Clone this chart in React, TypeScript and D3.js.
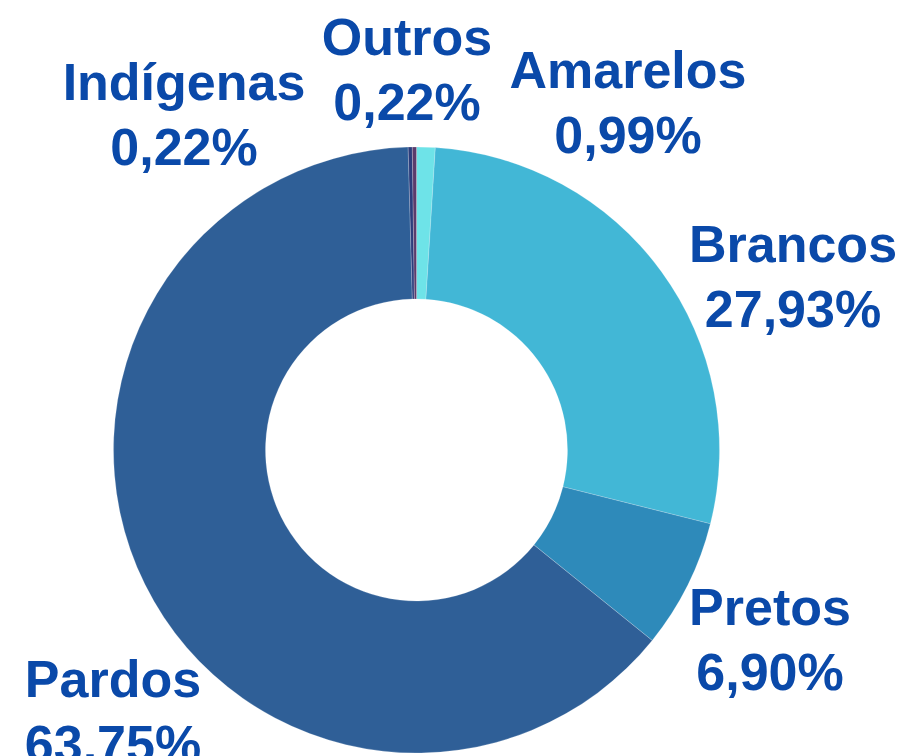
import * as d3 from 'd3';
import React, { useEffect, useRef } from 'react';

// values in percent, clockwise from 12 o'clock
const categories = ['Amarelos', 'Brancos', 'Pretos', 'Pardos', 'Indígenas', 'Outros'];
const values = [0.99, 27.93, 6.9, 63.75, 0.22, 0.22];
const valueLabels = ['0,99%', '27,93%', '6,90%', '63,75%', '0,22%', '0,22%'];
const colors = ['#6ee3e8', '#42b7d6', '#2e8aba', '#2f5f97', '#2c3d7c', '#5b3b6c'];

// label anchors (centre x, first baseline y)
const labelPos: [number, number][] = [
    [628, 88],
    [793, 262],
    [770, 625],
    [113, 697],
    [184, 100],
    [407, 55],
];

const App: React.FC = () => {
    const svgRef = useRef<SVGSVGElement | null>(null);

    useEffect(() => {
        const width = 904;
        const height = 756;
        const cx = 416.5;
        const cy = 450;
        const outer = 303;
        const inner = 151;

        d3.select(svgRef.current).selectAll('*').remove();

        const svg = d3.select(svgRef.current)
            .attr('width', width)
            .attr('height', height);

        const data = categories.map((c, i) => ({ name: c, value: values[i], label: valueLabels[i], color: colors[i] }));

        const pie = d3.pie<any>().value(d => d.value).sort(null);
        const arc = d3.arc<any>().innerRadius(inner).outerRadius(outer);

        const g = svg.append('g').attr('transform', `translate(${cx},${cy})`);

        g.selectAll('path')
            .data(pie(data))
            .enter()
            .append('path')
            .attr('d', arc)
            .attr('fill', d => d.data.color)
            .attr('stroke', '#ffffff')
            .attr('stroke-width', 0.4)
            .attr('stroke-opacity', 0.5);

        // labels: name on first line, percentage below
        const labels = svg.selectAll('g.lbl')
            .data(data)
            .enter()
            .append('g')
            .attr('class', 'lbl')
            .attr('transform', (d, i) => `translate(${labelPos[i][0]},${labelPos[i][1]})`);

        labels.append('text')
            .attr('text-anchor', 'middle')
            .attr('fill', '#0a49a9')
            .style('font-family', 'Liberation Sans, Arial, sans-serif')
            .style('font-weight', 'bold')
            .style('font-size', '52px')
            .text(d => d.name);

        labels.append('text')
            .attr('y', 65)
            .attr('text-anchor', 'middle')
            .attr('fill', '#0a49a9')
            .style('font-family', 'Liberation Sans, Arial, sans-serif')
            .style('font-weight', 'bold')
            .style('font-size', '52px')
            .text(d => d.label);
    }, []);

    return <svg ref={svgRef} style={{ position: 'absolute', left: 0, top: 0 }}></svg>;
};

export default App;
